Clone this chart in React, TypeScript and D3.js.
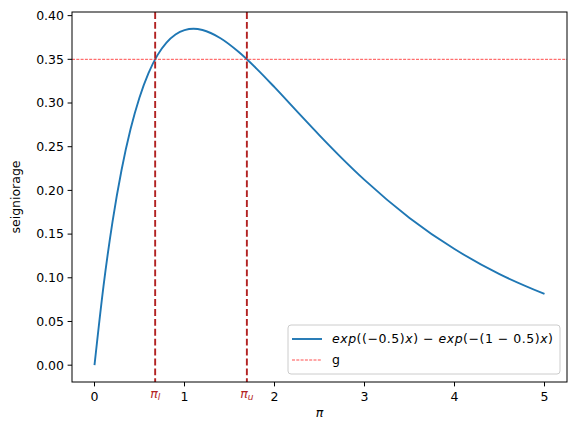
import { useMemo } from "react";
import * as d3 from "d3";

// readings of the blue curve (pi, seigniorage)
const piValues = [0, 0.1, 0.2, 0.3, 0.4, 0.5, 0.6, 0.7, 0.8, 0.9, 1.0, 1.1, 1.2, 1.4, 1.6, 1.8, 2.0, 2.25, 2.5, 2.75, 3.0, 3.5, 4.0, 4.5, 5.0];
const seigniorage = [0, 0.0905, 0.164, 0.2231, 0.2699, 0.3064, 0.3343, 0.3548, 0.3691, 0.3784, 0.3834, 0.3849, 0.3835, 0.3741, 0.3586, 0.3394, 0.3181, 0.2904, 0.263, 0.2367, 0.212, 0.1685, 0.1329, 0.1042, 0.0815];

const targetLevel = 0.35;
const piLower = 0.674;
const piUpper = 1.693;

const xTicks = [0, 1, 2, 3, 4, 5];
const yTicks = [0, 0.05, 0.1, 0.15, 0.2, 0.25, 0.3, 0.35, 0.4];

const W = 576;
const H = 434;
const M = { left: 72, right: 567, top: 12, bottom: 382 };
const FONT = "'DejaVu Sans', sans-serif";
const BLUE = "#1f77b4";
const DARKRED = "#b22222";

export default function App() {
  const x = useMemo(() => d3.scaleLinear().domain([-0.25, 5.25]).range([M.left, M.right]), []);
  const y = useMemo(() => d3.scaleLinear().domain([-0.01925, 0.40415]).range([M.bottom, M.top]), []);

  const points = piValues.map((p, i) => [p, seigniorage[i]] as [number, number]);
  const path =
    d3
      .line<[number, number]>()
      .x((d) => x(d[0]))
      .y((d) => y(d[1]))
      .curve(d3.curveMonotoneX)(points) ?? "";

  return (
    <svg width={W} height={H} style={{ position: "absolute", left: 0, top: 0 }} fontFamily={FONT}>
      <rect width={W} height={H} fill="#fff" />
      <defs>
        <clipPath id="plot">
          <rect x={M.left} y={M.top} width={M.right - M.left} height={M.bottom - M.top} />
        </clipPath>
      </defs>

      <g clipPath="url(#plot)">
        <path d={path} fill="none" stroke={BLUE} strokeWidth={1.9} />
        <line
          x1={M.left}
          x2={M.right}
          y1={y(targetLevel)}
          y2={y(targetLevel)}
          stroke="red"
          strokeWidth={0.7}
          strokeDasharray="3,1.3"
        />
        {[piLower, piUpper].map((p) => (
          <line
            key={p}
            x1={x(p)}
            x2={x(p)}
            y1={M.top}
            y2={M.bottom}
            stroke={DARKRED}
            strokeWidth={1.9}
            strokeDasharray="6.9,3"
          />
        ))}
      </g>

      {/* frame */}
      <rect
        x={M.left}
        y={M.top}
        width={M.right - M.left}
        height={M.bottom - M.top}
        fill="none"
        stroke="#000"
        strokeWidth={1}
      />

      {/* x ticks */}
      {xTicks.map((t) => (
        <g key={t}>
          <line x1={x(t)} x2={x(t)} y1={M.bottom} y2={M.bottom + 4.4} stroke="#000" strokeWidth={1} />
          <text x={x(t)} y={M.bottom + 18.5} fontSize={12.5} textAnchor="middle" fill="#000">
            {t}
          </text>
        </g>
      ))}
      {[
        { p: piLower, sub: "l" },
        { p: piUpper, sub: "u" },
      ].map((d) => (
        <text key={d.sub} x={x(d.p)} y={M.bottom + 15.5} fontSize={12.5} textAnchor="middle" fill={DARKRED} fontStyle="italic">
          π
          <tspan fontSize={9} dy={2.5}>
            {d.sub}
          </tspan>
        </text>
      ))}
      <text x={(M.left + M.right) / 2} y={M.bottom + 35} fontSize={12.5} textAnchor="middle" fontStyle="italic">
        π
      </text>

      {/* y ticks */}
      {yTicks.map((t) => (
        <g key={t}>
          <line x1={M.left - 4.4} x2={M.left} y1={y(t)} y2={y(t)} stroke="#000" strokeWidth={1} />
          <text x={M.left - 8} y={y(t)} dy="0.35em" fontSize={12.5} textAnchor="end" fill="#000">
            {t.toFixed(2)}
          </text>
        </g>
      ))}
      <text
        transform={`translate(${20},${(M.top + M.bottom) / 2}) rotate(-90)`}
        fontSize={12.5}
        textAnchor="middle"
      >
        seigniorage
      </text>

      {/* legend */}
      <g>
        <rect x={288} y={325} width={272} height={49} rx={3} fill="#fff" fillOpacity={0.8} stroke="#ccc" strokeWidth={1} />
        <line x1={292} x2={322} y1={339} y2={339} stroke={BLUE} strokeWidth={1.9} />
        <text x={332} y={339} dy="0.35em" fontSize={12.5} fill="#000" textLength={221} lengthAdjust="spacing">
          <tspan fontStyle="italic">exp</tspan>
          <tspan>((−0.5)</tspan>
          <tspan fontStyle="italic">x</tspan>
          <tspan>) − </tspan>
          <tspan fontStyle="italic">exp</tspan>
          <tspan>(−(1 − 0.5)</tspan>
          <tspan fontStyle="italic">x</tspan>
          <tspan>)</tspan>
        </text>
        <line x1={292} x2={322} y1={360} y2={360} stroke="red" strokeWidth={0.7} strokeDasharray="3,1.3" />
        <text x={332} y={360} dy="0.35em" fontSize={12.5} fill="#000">
          g
        </text>
      </g>
    </svg>
  );
}
